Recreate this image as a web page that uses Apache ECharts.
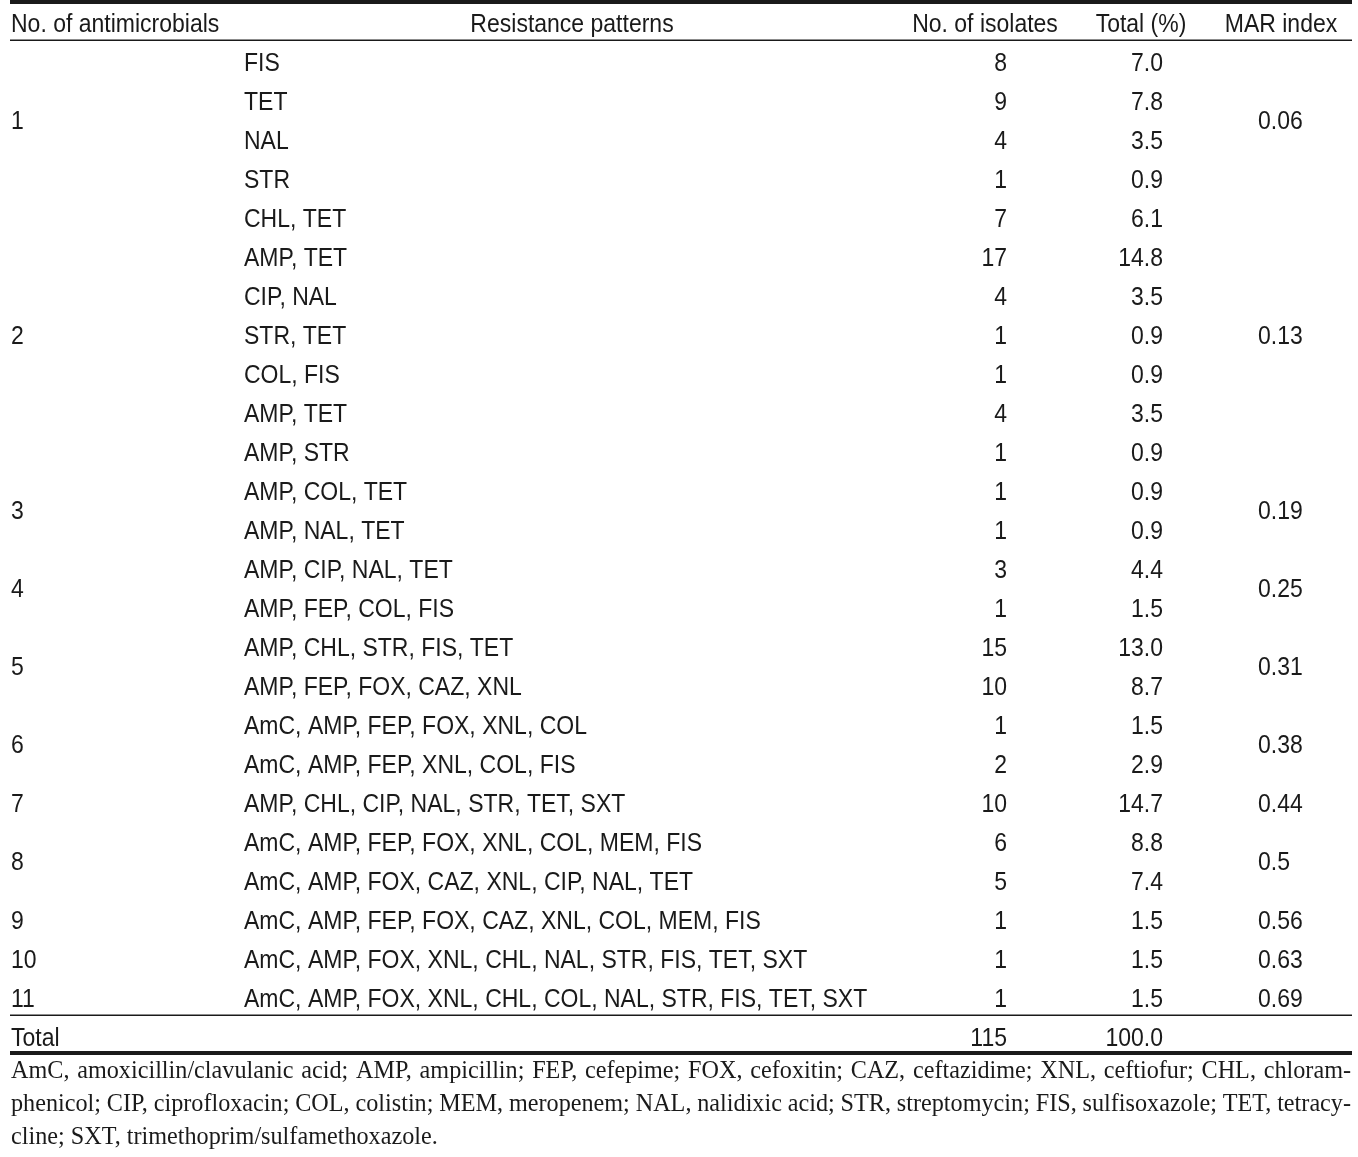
<!DOCTYPE html>
<html><head><meta charset="utf-8">
<script src="https://cdn.jsdelivr.net/npm/echarts@6/dist/echarts.min.js"></script>
<style>html,body{margin:0;padding:0;background:#fff}#c{width:1358px;height:1157px}</style>
</head><body><div id="c"></div><script>
// ---------------- DATA ----------------
const headers = ['No. of antimicrobials', 'Resistance patterns', 'No. of isolates', 'Total (%)', 'MAR index'];
const groupLabels = ['1', '2', '3', '4', '5', '6', '7', '8', '9', '10', '11'];
const groupSizes = [4, 7, 2, 2, 2, 2, 1, 2, 1, 1, 1];
const marIndex = ['0.06', '0.13', '0.19', '0.25', '0.31', '0.38', '0.44', '0.5', '0.56', '0.63', '0.69'];
const patterns = [
  'FIS', 'TET', 'NAL', 'STR',
  'CHL, TET', 'AMP, TET', 'CIP, NAL', 'STR, TET', 'COL, FIS', 'AMP, TET', 'AMP, STR',
  'AMP, COL, TET', 'AMP, NAL, TET',
  'AMP, CIP, NAL, TET', 'AMP, FEP, COL, FIS',
  'AMP, CHL, STR, FIS, TET', 'AMP, FEP, FOX, CAZ, XNL',
  'AmC, AMP, FEP, FOX, XNL, COL', 'AmC, AMP, FEP, XNL, COL, FIS',
  'AMP, CHL, CIP, NAL, STR, TET, SXT',
  'AmC, AMP, FEP, FOX, XNL, COL, MEM, FIS', 'AmC, AMP, FOX, CAZ, XNL, CIP, NAL, TET',
  'AmC, AMP, FEP, FOX, CAZ, XNL, COL, MEM, FIS',
  'AmC, AMP, FOX, XNL, CHL, NAL, STR, FIS, TET, SXT',
  'AmC, AMP, FOX, XNL, CHL, COL, NAL, STR, FIS, TET, SXT'
];
const isolates = [8, 9, 4, 1, 7, 17, 4, 1, 1, 4, 1, 1, 1, 3, 1, 15, 10, 1, 2, 10, 6, 5, 1, 1, 1];
const totals = ['7.0', '7.8', '3.5', '0.9', '6.1', '14.8', '3.5', '0.9', '0.9', '3.5', '0.9', '0.9', '0.9',
  '4.4', '1.5', '13.0', '8.7', '1.5', '2.9', '14.7', '8.8', '7.4', '1.5', '1.5', '1.5'];
const totalLabel = 'Total';
const totalIsolates = '115';
const totalPercent = '100.0';
const footnoteLines = [
  'AmC, amoxicillin/clavulanic acid; AMP, ampicillin; FEP, cefepime; FOX, cefoxitin; CAZ, ceftazidime; XNL, ceftiofur; CHL, chloram-',
  'phenicol; CIP, ciprofloxacin; COL, colistin; MEM, meropenem; NAL, nalidixic acid; STR, streptomycin; FIS, sulfisoxazole; TET, tetracy-',
  'cline; SXT, trimethoprim/sulfamethoxazole.'
];

// ---------------- LAYOUT / STYLE ----------------
const TEXT_COLOR = '#1a1a1a';
const FS = 25, SX = 0.92;
const SANS = FS + 'px "Liberation Sans", Arial, sans-serif';
const SERIF_FS = 24.2;
const SERIF = SERIF_FS + 'px "Liberation Serif", "Times New Roman", serif';
const colX = { num: 11, pat: 244, iso: 1007, tot: 1163, mar: 1258 };
const headX = [[11, 'left'], [572, 'center'], [985, 'center'], [1141, 'center'], [1281, 'center']];
const NROWS = 27;

// Build cells
const cells = [];
headers.forEach((h, i) => cells.push({ x: headX[i][0], row: 0, text: h, align: headX[i][1] }));
patterns.forEach((p, i) => {
  const r = i + 1;
  cells.push({ x: colX.pat, row: r, text: p, align: 'left' });
  cells.push({ x: colX.iso, row: r, text: String(isolates[i]), align: 'right' });
  cells.push({ x: colX.tot, row: r, text: totals[i], align: 'right' });
});
let start = 1;
groupLabels.forEach((g, i) => {
  const center = start + (groupSizes[i] - 1) / 2;
  cells.push({ x: colX.num, row: center, text: g, align: 'left' });
  cells.push({ x: colX.mar, row: center, text: marIndex[i], align: 'left' });
  start += groupSizes[i];
});
const totRow = patterns.length + 1;
cells.push({ x: colX.num, row: totRow, text: totalLabel, align: 'left' });
cells.push({ x: colX.iso, row: totRow, text: totalIsolates, align: 'right' });
cells.push({ x: colX.tot, row: totRow, text: totalPercent, align: 'right' });

// Footnote (justified)
const ctx = document.createElement('canvas').getContext('2d');
ctx.font = SERIF;
const FN_LEFT = 11, FN_RIGHT = 1351, FN_Y = [1072, 1105, 1138];
const footEls = [];
footnoteLines.forEach((line, li) => {
  const words = line.split(' ');
  const justify = li < footnoteLines.length - 1;
  const widths = words.map(w => ctx.measureText(w).width);
  const sum = widths.reduce((a, b) => a + b, 0);
  const gap = justify ? (FN_RIGHT - FN_LEFT - sum) / (words.length - 1) : ctx.measureText(' ').width;
  let x = FN_LEFT;
  words.forEach((w, wi) => {
    footEls.push({ type: 'text', x: x, y: FN_Y[li], silent: true,
      style: { text: w, font: SERIF, fill: TEXT_COLOR, align: 'left', verticalAlign: 'middle', textAlign: 'left', textVerticalAlign: 'middle' } });
    x += widths[wi] + gap;
  });
});

const rule = (y, h) => ({ type: 'rect', silent: true, shape: { x: 10, y: y, width: 1342, height: h }, style: { fill: '#1a1a1a' } });

const chart = echarts.init(document.getElementById('c'), null, { renderer: 'canvas' });
chart.setOption({
  animation: false,
  backgroundColor: '#fff',
  grid: { left: 0, right: 0, top: 5.5, height: NROWS * 39 },
  xAxis: { type: 'value', min: 0, max: 1358, show: false },
  yAxis: { type: 'value', min: -0.5, max: NROWS - 0.5, inverse: true, show: false },
  series: [{
    type: 'custom',
    silent: true,
    clip: false,
    data: cells.map(c => [c.x, c.row]),
    renderItem: function (params, api) {
      const c = cells[params.dataIndex];
      const p = api.coord([api.value(0), api.value(1)]);
      return {
        type: 'text', x: p[0], y: p[1], scaleX: SX,
        style: { text: c.text, font: SANS, fill: TEXT_COLOR,
          align: c.align, verticalAlign: 'middle', textAlign: c.align, textVerticalAlign: 'middle' }
      };
    }
  }],
  graphic: [rule(0, 4), rule(39.5, 1.5), rule(1014.5, 1.5), rule(1051, 4)].concat(footEls)
});
</script></body></html>
